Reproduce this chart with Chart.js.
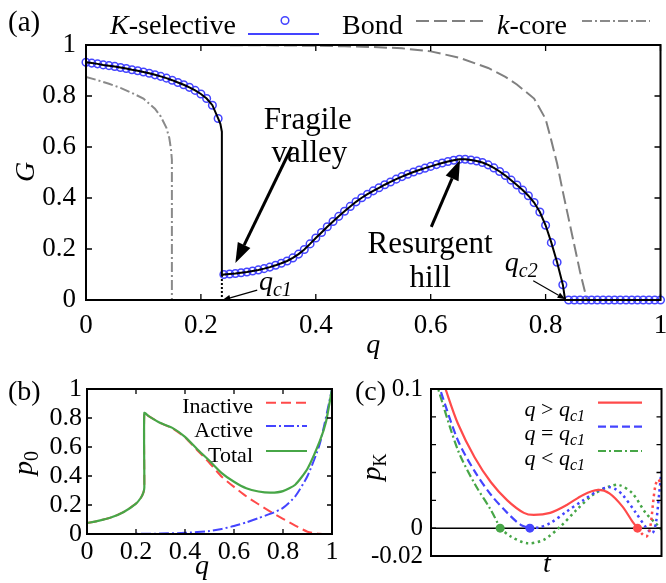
<!DOCTYPE html>
<html>
<head>
<meta charset="utf-8">
<script src="https://cdn.jsdelivr.net/npm/chart.js@4.4.0/dist/chart.umd.min.js"></script>
<style>
html, body { margin: 0; padding: 0; background: #fff; }
body { width: 666px; height: 583px; position: relative; overflow: hidden; }
canvas { position: absolute; }
#ca { left: 0; top: 0; }
#cb { left: 0; top: 362px; }
#cc { left: 345px; top: 362px; }
</style>
</head>
<body>
<canvas id="ca" width="666" height="362"></canvas>
<canvas id="cb" width="345" height="221"></canvas>
<canvas id="cc" width="321" height="221"></canvas>
<script>
const SERIF = '"Liberation Serif", "DejaVu Serif", serif';

// ---- panel (a): giant component G vs q ----
// K-selective (circles every 0.01)
const kselQ = [0, 0.01, 0.02, 0.03, 0.04, 0.05, 0.06, 0.07, 0.08, 0.09, 0.10, 0.11, 0.12, 0.13, 0.14, 0.15, 0.16, 0.17, 0.18, 0.19, 0.20, 0.21, 0.22, 0.23,
  0.24, 0.25, 0.26, 0.27, 0.28, 0.29, 0.30, 0.31, 0.32, 0.33, 0.34, 0.35, 0.36, 0.37, 0.38, 0.39, 0.40, 0.41, 0.42, 0.43, 0.44, 0.45, 0.46, 0.47, 0.48, 0.49,
  0.50, 0.51, 0.52, 0.53, 0.54, 0.55, 0.56, 0.57, 0.58, 0.59, 0.60, 0.61, 0.62, 0.63, 0.64, 0.65, 0.66, 0.67, 0.68, 0.69, 0.70, 0.71, 0.72, 0.73, 0.74,
  0.75, 0.76, 0.77, 0.78, 0.79, 0.80, 0.81, 0.82, 0.83,
  0.84, 0.85, 0.86, 0.87, 0.88, 0.89, 0.90, 0.91, 0.92, 0.93, 0.94, 0.95, 0.96, 0.97, 0.98, 0.99, 1.00];
const kselG = [0.932, 0.929, 0.926, 0.922, 0.919, 0.916, 0.912, 0.908, 0.903, 0.899, 0.894, 0.889, 0.883, 0.877, 0.870, 0.862, 0.853, 0.844, 0.834, 0.822, 0.808, 0.790, 0.764, 0.712,
  0.100, 0.102, 0.104, 0.107, 0.110, 0.114, 0.118, 0.123, 0.129, 0.136, 0.144, 0.153, 0.165, 0.180, 0.198, 0.220, 0.243, 0.265, 0.287, 0.308, 0.328,
  0.348, 0.367, 0.385, 0.401, 0.415, 0.428, 0.440, 0.452, 0.463, 0.474, 0.484, 0.493, 0.502, 0.510, 0.517, 0.524, 0.531, 0.537, 0.543, 0.548, 0.552,
  0.552, 0.549, 0.545, 0.539, 0.530, 0.518, 0.504, 0.488, 0.470, 0.451, 0.431, 0.409, 0.382, 0.345, 0.293, 0.225, 0.148, 0.060,
  0, 0, 0, 0, 0, 0, 0, 0, 0, 0, 0, 0, 0, 0, 0, 0, 0];
// extra points of the solid line (the jump at q_c1 and the end at q_c2)
const kselJumpQ = [0.234, 0.2365, 0.2365, 0.834];
const kselJumpG = [0.690, 0.660, 0.098, 0];
const qc1LineQ = [0.2365, 0.2365];
const qc1LineG = [0.098, 0];

const bondQ = [0, 0.2, 0.3, 0.4, 0.45, 0.5, 0.55, 0.6, 0.65, 0.7, 0.73, 0.75, 0.78, 0.8, 0.81, 0.82, 0.83, 0.84, 0.85, 0.86, 0.872];
const bondG = [1, 1, 0.999, 0.997, 0.995, 0.992, 0.987, 0.975, 0.95, 0.91, 0.875, 0.845, 0.79, 0.71, 0.625, 0.535, 0.425, 0.32, 0.215, 0.11, 0];

const kcoreQ = [0, 0.02, 0.04, 0.06, 0.08, 0.10, 0.11, 0.12, 0.13, 0.14, 0.145, 0.148, 0.1495, 0.1495];
const kcoreG = [0.875, 0.862, 0.848, 0.832, 0.812, 0.790, 0.770, 0.750, 0.720, 0.675, 0.635, 0.590, 0.550, 0];

// ---- panel (b): p0 vs q ----
const totalQ = [0, 0.05, 0.1, 0.15, 0.2, 0.22, 0.23, 0.234, 0.234, 0.25, 0.3, 0.35, 0.4, 0.45, 0.5, 0.55, 0.6, 0.65, 0.7, 0.75, 0.8, 0.85, 0.9, 0.95, 0.975, 1.0];
const totalP = [0.075, 0.092, 0.115, 0.152, 0.21, 0.25, 0.285, 0.32, 0.835, 0.815, 0.765, 0.73, 0.67, 0.585, 0.505, 0.42, 0.36, 0.315, 0.293, 0.285, 0.296, 0.34, 0.45, 0.64, 0.77, 1.0];
const inactQ = [0, 0.05, 0.1, 0.15, 0.2, 0.22, 0.23, 0.234, 0.234, 0.25, 0.3, 0.35, 0.4, 0.45, 0.5, 0.55, 0.6, 0.65, 0.7, 0.75, 0.8, 0.85, 0.9, 0.95, 1.0];
const inactP = [0.075, 0.092, 0.115, 0.152, 0.21, 0.25, 0.285, 0.32, 0.835, 0.815, 0.765, 0.728, 0.665, 0.578, 0.49, 0.395, 0.325, 0.26, 0.205, 0.153, 0.105, 0.058, 0.016, 0.002, 0];
const activeQ = [0, 0.1, 0.2, 0.3, 0.4, 0.5, 0.55, 0.6, 0.65, 0.7, 0.75, 0.8, 0.85, 0.9, 0.95, 1.0];
const activeP = [0, 0, 0.001, 0.003, 0.008, 0.02, 0.035, 0.055, 0.08, 0.11, 0.14, 0.18, 0.26, 0.40, 0.62, 1.0];

// ---- panel (c): pK vs t ----
const cRedT = [0.05, 0.063, 0.117, 0.189, 0.26, 0.331, 0.403, 0.446, 0.517, 0.589, 0.66, 0.724, 0.774, 0.831, 0.874, 0.896];
const cRedP = [0.107, 0.1, 0.075, 0.051, 0.033, 0.020, 0.011, 0.0095, 0.011, 0.0167, 0.0239, 0.0275, 0.025, 0.0155, 0.0047, 0];
const cRedDotT = [0.896, 0.915, 0.934, 0.946, 0.955, 0.964, 0.974, 0.986, 1.0];
const cRedDotP = [0, -0.004, -0.006, -0.003, 0.005, 0.019, 0.031, 0.035, 0.030];
const cBlueT = [0.03, 0.039, 0.117, 0.189, 0.26, 0.331, 0.389, 0.429];
const cBlueP = [0.106, 0.1, 0.063, 0.041, 0.024, 0.011, 0.0024, 0];
const cBlueDotT = [0.429, 0.47, 0.517, 0.589, 0.66, 0.731, 0.774, 0.8, 0.831, 0.889, 0.931, 0.96, 0.976, 0.99, 1.0];
const cBlueDotP = [0, 0.0006, 0.0036, 0.012, 0.020, 0.0275, 0.0294, 0.028, 0.024, 0.011, 0.001, -0.0036, 0.004, 0.025, 0.042];
const cGreenT = [0.02, 0.031, 0.117, 0.189, 0.26, 0.30];
const cGreenP = [0.107, 0.1, 0.056, 0.032, 0.013, 0];
const cGreenDotT = [0.30, 0.346, 0.417, 0.489, 0.56, 0.631, 0.703, 0.774, 0.817, 0.874, 0.931, 0.974, 1.0];
const cGreenDotP = [0, -0.006, -0.0108, -0.0084, 0.001, 0.013, 0.024, 0.030, 0.031, 0.025, 0.011, 0.0036, -0.001];
const cDotT = [0.30, 0.429, 0.896];
const cDotP = [0, 0, 0];
const cLabelled = [0.1, 0, -0.02];

const RED = '#ff4a4a';
const BLUE = '#4444ff';
const GREEN = '#47a647';
const GRAY = '#808080';

function toPts(xs, ys) {
    return xs.map((x, i) => ({ x: x, y: ys[i] }));
}

function lineSet(xs, ys, color, width, dash, extra) {
    return Object.assign({
        data: toPts(xs, ys),
        showLine: true,
        borderColor: color,
        borderWidth: width,
        borderDash: dash || [],
        pointRadius: 0,
        tension: 0,
        fill: false
    }, extra || {});
}

function plainNum(v) {
    return String(Math.round(v * 1000) / 1000);
}

function axis(min, max, step, size, pad, fitKey, fitVal, extra) {
    return Object.assign({
        type: 'linear',
        min: min,
        max: max,
        grid: { display: false, drawTicks: false },
        border: { display: false },
        ticks: {
            stepSize: step,
            color: '#000',
            autoSkip: false,
            maxRotation: 0,
            padding: pad,
            font: { family: SERIF, size: size },
            callback: plainNum
        },
        afterFit(s) {
            s[fitKey] = fitVal;
            s.paddingLeft = 0; s.paddingRight = 0; s.paddingTop = 0; s.paddingBottom = 0;
        }
    }, extra || {});
}

// draws pieces of text in a row: [text, size, italic, dy]
function rich(ctx, parts, x, y, align) {
    const fnt = p => (p[2] ? 'italic ' : '') + p[1] + 'px ' + SERIF;
    let w = 0;
    parts.forEach(p => { ctx.font = fnt(p); w += ctx.measureText(p[0]).width; });
    let cx = align === 'right' ? x - w : (align === 'center' ? x - w / 2 : x);
    ctx.textAlign = 'left';
    ctx.textBaseline = 'alphabetic';
    parts.forEach(p => {
        ctx.font = fnt(p);
        ctx.fillText(p[0], cx, y + (p[3] || 0));
        cx += ctx.measureText(p[0]).width;
    });
}

function arrow(ctx, x0, y0, x1, y1, len, wid, lw) {
    const a = Math.atan2(y1 - y0, x1 - x0);
    const bx = x1 - len * Math.cos(a), by = y1 - len * Math.sin(a);
    ctx.lineWidth = lw;
    ctx.beginPath(); ctx.moveTo(x0, y0); ctx.lineTo(bx, by); ctx.stroke();
    ctx.beginPath();
    ctx.moveTo(x1, y1);
    ctx.lineTo(bx + wid / 2 * Math.sin(a), by - wid / 2 * Math.cos(a));
    ctx.lineTo(bx - wid / 2 * Math.sin(a), by + wid / 2 * Math.cos(a));
    ctx.closePath(); ctx.fill();
}

function sample(ctx, x0, x1, y, color, dash, lw) {
    ctx.save();
    ctx.strokeStyle = color; ctx.lineWidth = lw || 2; ctx.setLineDash(dash || []);
    ctx.beginPath(); ctx.moveTo(x0, y); ctx.lineTo(x1, y); ctx.stroke();
    ctx.restore();
}

function framePlugin(cfg) {
    return {
        id: 'frame',
        beforeDatasetsDraw(chart) {
            if (cfg.under) cfg.under(chart.ctx, chart);
        },
        afterDatasetsDraw(chart) {
            const ctx = chart.ctx, a = chart.chartArea, x = chart.scales.x, y = chart.scales.y;
            ctx.save();
            ctx.strokeStyle = '#000';
            ctx.lineWidth = 1.3;
            ctx.beginPath();
            if (cfg.xTicks) {
                x.ticks.forEach(t => {
                    const p = x.getPixelForValue(t.value);
                    ctx.moveTo(p, a.bottom); ctx.lineTo(p, a.bottom - cfg.tick);
                    ctx.moveTo(p, a.top); ctx.lineTo(p, a.top + cfg.tick);
                });
            }
            y.ticks.forEach(t => {
                const p = y.getPixelForValue(t.value);
                ctx.moveTo(a.left, p); ctx.lineTo(a.left + cfg.tick, p);
                ctx.moveTo(a.right, p); ctx.lineTo(a.right - cfg.tick, p);
            });
            ctx.stroke();
            ctx.lineWidth = 2;
            ctx.strokeRect(a.left, a.top, a.right - a.left, a.bottom - a.top);
            ctx.restore();
        },
        afterDraw(chart) {
            const ctx = chart.ctx;
            ctx.save();
            ctx.fillStyle = '#000';
            ctx.strokeStyle = '#000';
            cfg.decorate(ctx, chart);
            ctx.restore();
        }
    };
}

const common = {
    responsive: false,
    animation: false,
    events: [],
    plugins: { legend: { display: false }, tooltip: { enabled: false } }
};

// ---------- (a) ----------
const lineQ = kselQ.concat(kselJumpQ);
const lineG = kselG.concat(kselJumpG);
// stable sort keeps the two jump points at q=0.2365 in their listed order
const order = lineQ.map((q, i) => i).sort((i, j) => lineQ[i] - lineQ[j]);
const kselLineQ = order.map(i => lineQ[i]);
const kselLineG = order.map(i => lineG[i]);

new Chart(document.getElementById('ca'), {
    type: 'scatter',
    data: {
        datasets: [
            lineSet(kselLineQ, kselLineG, '#000', 2),
            { data: toPts(kselQ, kselG), showLine: false, pointRadius: 3.8, pointBorderWidth: 1.5,
              pointBorderColor: BLUE, pointBackgroundColor: 'rgba(0,0,0,0)', clip: 8 },
            lineSet(qc1LineQ, qc1LineG, '#000', 2, [2, 2]),
            lineSet(bondQ, bondG, GRAY, 2, [13, 5]),
            lineSet(kcoreQ, kcoreG, '#8a8a8a', 2, [10, 3, 2, 3])
        ]
    },
    options: Object.assign({}, common, {
        layout: { padding: { left: 0, right: 2, top: 45, bottom: 0 } },
        scales: {
            x: axis(0, 1, 0.2, 27, 10, 'height', 62),
            y: axis(0, 1, 0.2, 27, 10, 'width', 86)
        }
    }),
    plugins: [framePlugin({
        xTicks: true, tick: 6,
        decorate(ctx, chart) {
            const X = v => chart.scales.x.getPixelForValue(v);
            const Y = v => chart.scales.y.getPixelForValue(v);
            // key row
            rich(ctx, [['(a)', 29]], 8, 31);
            rich(ctx, [['K', 28, true], ['-selective', 28]], 110, 34);
            sample(ctx, 248, 319, 34, BLUE, [], 2.2);
            ctx.save();
            ctx.strokeStyle = BLUE; ctx.lineWidth = 1.5;
            ctx.beginPath(); ctx.arc(285, 20.5, 3.8, 0, Math.PI * 2); ctx.stroke();
            ctx.restore();
            rich(ctx, [['Bond', 28]], 342, 34);
            sample(ctx, 416, 484, 21, GRAY, [13, 5]);
            rich(ctx, [['k', 28, true], ['-core', 28]], 497, 34);
            sample(ctx, 582, 650, 21, '#8a8a8a', [10, 3, 2, 3]);
            // axis titles
            rich(ctx, [['q', 28, true]], X(0.5), 353, 'center');
            ctx.save();
            ctx.translate(34, 172); ctx.rotate(-Math.PI / 2);
            rich(ctx, [['G', 28, true]], 0, 0, 'center');
            ctx.restore();
            // annotations
            rich(ctx, [['Fragile', 31]], X(0.386), Y(0.67), 'center');
            rich(ctx, [['valley', 31]], X(0.389), Y(0.54), 'center');
            arrow(ctx, X(0.358), Y(0.60), X(0.26), Y(0.145), 20, 14, 3);
            rich(ctx, [['Resurgent', 31]], X(0.599), Y(0.184), 'center');
            rich(ctx, [['hill', 31]], X(0.599), Y(0.051), 'center');
            arrow(ctx, X(0.601), Y(0.287), X(0.651), Y(0.549), 20, 14, 3);
            rich(ctx, [['q', 28, true], ['c1', 20, true, 6]], X(0.301), Y(0.04));
            arrow(ctx, X(0.298), Y(0.039), X(0.2375), Y(0.0), 8, 6, 1.2);
            rich(ctx, [['q', 28, true], ['c2', 20, true, 6]], X(0.729), Y(0.114));
            arrow(ctx, X(0.7785), Y(0.0757), X(0.8346), Y(0.003), 8, 6, 1.2);
        }
    })]
});

// ---------- (b) ----------
new Chart(document.getElementById('cb'), {
    type: 'scatter',
    data: {
        datasets: [
            lineSet(totalQ, totalP, GREEN, 2.2, [], { tension: 0.2 }),
            lineSet(activeQ, activeP, BLUE, 2, [10, 3, 2, 3], { tension: 0.2 }),
            lineSet(inactQ, inactP, RED, 2, [10, 5], { tension: 0.2 })
        ]
    },
    options: Object.assign({}, common, {
        layout: { padding: { left: 0, right: 13, top: 27, bottom: 0 } },
        scales: {
            x: axis(0, 1, 0.2, 26, 3, 'height', 49),
            y: axis(0, 1, 0.2, 26, 5, 'width', 87)
        }
    }),
    plugins: [framePlugin({
        xTicks: true, tick: 5,
        decorate(ctx, chart) {
            rich(ctx, [['(b)', 28]], 8, 38);
            rich(ctx, [['Inactive', 22]], 253, 51, 'right');
            sample(ctx, 266, 307, 40.7, RED, [10, 5]);
            rich(ctx, [['Active', 22]], 253, 75, 'right');
            sample(ctx, 266, 307, 64, BLUE, [10, 3, 2, 3]);
            rich(ctx, [['Total', 22]], 253, 99.7, 'right');
            sample(ctx, 266, 307, 89, GREEN, [], 2.2);
            rich(ctx, [['q', 28, true]], 202, 212, 'center');
            ctx.save();
            ctx.translate(32, 101); ctx.rotate(-Math.PI / 2);
            rich(ctx, [['p', 28, true], ['0', 20, false, 6]], 0, 0, 'center');
            ctx.restore();
        }
    })]
});

// ---------- (c) ----------
const cYAxis = axis(-0.02, 0.1, 0.02, 25, 8, 'width', 86);
cYAxis.ticks.callback = v => cLabelled.some(l => Math.abs(l - v) < 1e-9) ? plainNum(v) : '';

new Chart(document.getElementById('cc'), {
    type: 'scatter',
    data: {
        datasets: [
            { data: toPts(cDotT, cDotP), showLine: false, pointRadius: 4.5, pointBorderWidth: 0,
              pointBackgroundColor: [GREEN, BLUE, RED], clip: false },
            lineSet(cRedT, cRedP, RED, 2.2, [], { tension: 0.3 }),
            lineSet(cBlueT, cBlueP, BLUE, 2.2, [8, 4], { tension: 0.3 }),
            lineSet(cGreenT, cGreenP, GREEN, 2.2, [8, 3, 2, 3], { tension: 0.3 }),
            lineSet(cRedDotT, cRedDotP, RED, 2.5, [2.5, 3.5], { tension: 0.3 }),
            lineSet(cBlueDotT, cBlueDotP, BLUE, 2.5, [2.5, 3.5], { tension: 0.3 }),
            lineSet(cGreenDotT, cGreenDotP, GREEN, 2.5, [2.5, 3.5], { tension: 0.3 })
        ]
    },
    options: Object.assign({}, common, {
        layout: { padding: { left: 0, right: 2, top: 27, bottom: 0 } },
        scales: {
            x: axis(0, 1, 0.2, 22, 4, 'height', 27, { ticks: { display: false } }),
            y: cYAxis
        }
    }),
    plugins: [framePlugin({
        xTicks: false, tick: 5,
        under(ctx, chart) {
            const a = chart.chartArea, y0 = chart.scales.y.getPixelForValue(0);
            ctx.save();
            ctx.strokeStyle = '#000'; ctx.lineWidth = 1.5;
            ctx.beginPath(); ctx.moveTo(a.left, y0); ctx.lineTo(a.right, y0); ctx.stroke();
            ctx.restore();
        },
        decorate(ctx, chart) {
            rich(ctx, [['(c)', 28]], 10, 38);
            rich(ctx, [['q', 22, true], [' > ', 22], ['q', 22, true], ['c1', 16, true, 5]], 240, 54, 'right');
            sample(ctx, 253, 297, 40.7, RED, [], 2.2);
            rich(ctx, [['q', 22, true], [' = ', 22], ['q', 22, true], ['c1', 16, true, 5]], 240, 78, 'right');
            sample(ctx, 253, 297, 64.7, BLUE, [8, 4], 2.2);
            rich(ctx, [['q', 22, true], [' < ', 22], ['q', 22, true], ['c1', 16, true, 5]], 240, 103, 'right');
            sample(ctx, 253, 297, 89, GREEN, [8, 3, 2, 3], 2.2);
            rich(ctx, [['t', 28, true]], 202, 210, 'center');
            ctx.save();
            ctx.translate(35, 105); ctx.rotate(-Math.PI / 2);
            rich(ctx, [['p', 28, true], ['K', 18, false, 6]], 0, 0, 'center');
            ctx.restore();
        }
    })]
});
</script>
</body>
</html>
